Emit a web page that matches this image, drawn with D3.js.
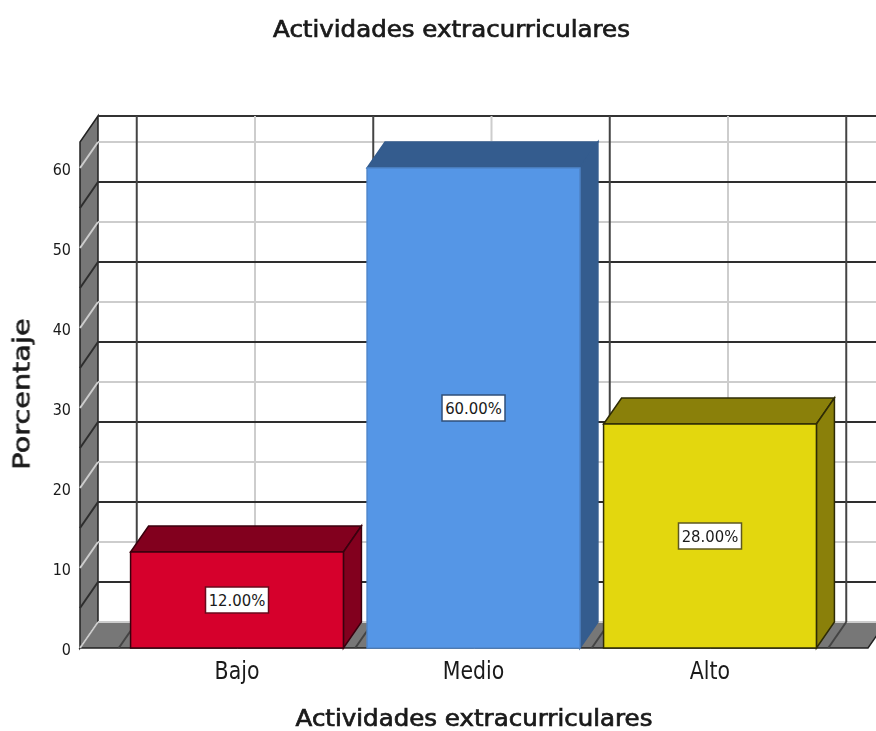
<!DOCTYPE html>
<html>
<head>
<meta charset="utf-8">
<script src="https://cdnjs.cloudflare.com/ajax/libs/d3/7.8.5/d3.min.js"></script>
<style>
  html, body { margin: 0; padding: 0; background: #fff; overflow: hidden; }
  svg { display: block; filter: blur(0.4px); }
  text { font-family: "DejaVu Sans", sans-serif; fill: #1a1a1a; }
</style>
</head>
<body>
<div class="canvas"></div>
<script>
const categories = ['Bajo', 'Medio', 'Alto'];
const percentages = [12, 60, 28];
const valueLabels = ['12.00%', '60.00%', '28.00%'];
const tickValues = [0, 10, 20, 30, 40, 50, 60];
const darkGridValues = [5, 15, 25, 35, 45, 55];
const lightGridValues = [0, 10, 20, 30, 40, 50, 60];
const faceColours = ['#d6002c', '#5596e6', '#e3d70e'];
const sideColours = ['#82001e', '#345c8e', '#8a800a'];
const edgeColours = ['#3a000e', '#4f86cc', '#2e2b06'];
const labelEdgeColours = ['#6a0a1c', '#2f4f7a', '#5e5820'];

const dims = { width: 876, height: 731, depthX: 18, depthY: -26, yTop: 63.25 };

const svg = d3.selectAll('.canvas')
    .append('svg')
    .attr('width', dims.width)
    .attr('height', dims.height);

const y = d3.scaleLinear().domain([0, 60]).range([648, 168]);
const x = d3.scaleBand().domain(categories).range([118.75, 828.25]).paddingInner(0.1).paddingOuter(0.05);

const plotLeft = 80;
const plotRight = 868;
const pts = list => list.map(p => p.join(',')).join(' ');
const dx = dims.depthX;
const dy = dims.depthY;

// walls
svg.append('polygon')
    .attr('points', pts([[plotLeft, y(0)], [plotLeft, y(dims.yTop)], [plotLeft + dx, y(dims.yTop) + dy], [plotLeft + dx, y(0) + dy]]))
    .attr('fill', '#777').attr('stroke', '#222').attr('stroke-width', 1.5);
svg.append('polygon')
    .attr('points', pts([[plotLeft, y(0)], [plotRight, y(0)], [plotRight + dx, y(0) + dy], [plotLeft + dx, y(0) + dy]]))
    .attr('fill', '#777').attr('stroke', '#222').attr('stroke-width', 1.5);

// back wall top edge
svg.append('line')
    .attr('x1', plotLeft + dx).attr('x2', plotRight + dx)
    .attr('y1', y(dims.yTop) + dy).attr('y2', y(dims.yTop) + dy)
    .attr('stroke', '#333').attr('stroke-width', 2);

// horizontal grid, back wall and down the left wall
const drawHorizontal = (values, colour, width) => {
    const g = svg.append('g');
    g.selectAll('.back').data(values).enter().append('line')
        .attr('x1', plotLeft + dx).attr('x2', plotRight + dx)
        .attr('y1', d => y(d) + dy).attr('y2', d => y(d) + dy)
        .attr('stroke', colour).attr('stroke-width', width);
    g.selectAll('.side').data(values).enter().append('line')
        .attr('x1', plotLeft).attr('x2', plotLeft + dx)
        .attr('y1', d => y(d)).attr('y2', d => y(d) + dy)
        .attr('stroke', colour).attr('stroke-width', width);
};

// vertical grid, back wall and across the floor
const drawVertical = (positions, colour, width) => {
    const g = svg.append('g');
    g.selectAll('.back').data(positions).enter().append('line')
        .attr('x1', d => d + dx).attr('x2', d => d + dx)
        .attr('y1', y(dims.yTop) + dy).attr('y2', y(0) + dy)
        .attr('stroke', colour).attr('stroke-width', width);
    g.selectAll('.floor').data(positions).enter().append('line')
        .attr('x1', d => d).attr('x2', d => d + dx)
        .attr('y1', y(0)).attr('y2', y(0) + dy)
        .attr('stroke', colour).attr('stroke-width', width);
};

const step = x.step();
const bandCentres = categories.map(c => x(c) + x.bandwidth() / 2);
const bandEdges = [0, 1, 2, 3].map(i => x.range()[0] + i * step);

drawHorizontal(lightGridValues, '#cdcdcd', 2);
drawVertical(bandCentres, '#cdcdcd', 2);
drawHorizontal(darkGridValues, '#2e2e2e', 2);
drawVertical(bandEdges, '#444', 2);

const bars = svg.append('g').selectAll('g').data(categories).enter().append('g');

bars.append('polygon')
    .attr('points', (d, i) => {
        const x0 = x(d), x1 = x0 + x.bandwidth(), top = y(percentages[i]);
        return pts([[x0, top], [x0 + dx, top + dy], [x1 + dx, top + dy], [x1, top]]);
    })
    .attr('fill', (d, i) => sideColours[i])
    .attr('stroke', (d, i) => i === 1 ? sideColours[i] : edgeColours[i]).attr('stroke-width', 1.5);

bars.append('polygon')
    .attr('points', (d, i) => {
        const x1 = x(d) + x.bandwidth(), top = y(percentages[i]);
        return pts([[x1, top], [x1 + dx, top + dy], [x1 + dx, y(0) + dy], [x1, y(0)]]);
    })
    .attr('fill', (d, i) => sideColours[i])
    .attr('stroke', (d, i) => i === 1 ? sideColours[i] : edgeColours[i]).attr('stroke-width', 1.5);

bars.append('rect')
    .attr('x', d => x(d))
    .attr('y', (d, i) => y(percentages[i]))
    .attr('width', x.bandwidth())
    .attr('height', (d, i) => y(0) - y(percentages[i]))
    .attr('fill', (d, i) => faceColours[i])
    .attr('stroke', (d, i) => edgeColours[i]).attr('stroke-width', 1.5);

// value labels
const labels = bars.append('g')
    .attr('transform', (d, i) => `translate(${x(d) + x.bandwidth() / 2}, ${y(percentages[i] / 2)})`);
labels.append('rect')
    .attr('x', -31.5).attr('y', -13).attr('width', 63).attr('height', 26)
    .attr('fill', '#fff')
    .attr('stroke', (d, i) => labelEdgeColours[i])
    .attr('stroke-width', 1.5);
labels.append('text')
    .attr('text-anchor', 'middle').attr('dy', '.36em')
    .attr('font-size', 16)
    .attr('transform', 'scale(0.93, 1)')
    .text((d, i) => valueLabels[i]);

// y axis
const yAxis = svg.append('g')
    .attr('transform', `translate(${plotLeft}, 1)`)
    .call(d3.axisLeft(y).tickValues(tickValues).tickSize(0).tickPadding(9));
yAxis.select('.domain').remove();
yAxis.selectAll('text')
    .style('font-family', '"DejaVu Sans", sans-serif')
    .attr('font-size', 16)
    .attr('x', -10)
    .attr('transform', 'scale(0.9, 1)')
    .attr('fill', '#333');

// x axis, labels squeezed sideways around each tick
const xAxis = svg.append('g')
    .attr('transform', `translate(0, ${y(0)})`)
    .call(d3.axisBottom(x).tickSize(0).tickPadding(13));
xAxis.select('.domain').remove();
xAxis.selectAll('text')
    .style('font-family', '"DejaVu Sans", sans-serif')
    .attr('font-size', 25)
    .attr('transform', 'scale(0.82, 1)')
    .attr('fill', '#444');

// titles
svg.append('text').attr('transform', 'translate(451.5, 37) scale(1.09, 1)')
    .attr('text-anchor', 'middle').attr('font-size', 22.5)
    .attr('stroke', '#1a1a1a').attr('stroke-width', 0.7)
    .text('Actividades extracurriculares');
svg.append('text').attr('transform', 'translate(474, 726) scale(1.09, 1)')
    .attr('text-anchor', 'middle').attr('font-size', 22.5)
    .attr('stroke', '#1a1a1a').attr('stroke-width', 0.7)
    .text('Actividades extracurriculares');
svg.append('text')
    .attr('transform', 'translate(29.5, 394) rotate(-90) scale(1.25, 1)')
    .attr('text-anchor', 'middle').attr('font-size', 23)
    .attr('stroke', '#1a1a1a').attr('stroke-width', 0.6)
    .text('Porcentaje');
</script>
</body>
</html>
